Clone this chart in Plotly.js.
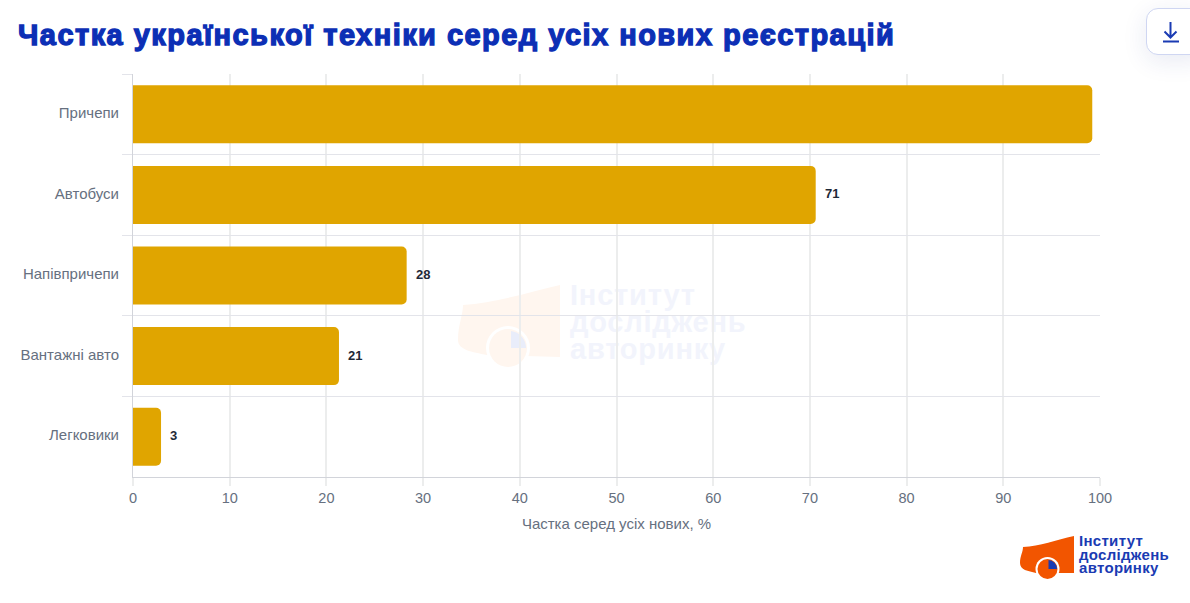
<!DOCTYPE html>
<html><head><meta charset="utf-8">
<script src="https://cdn.plot.ly/plotly-3.0.1.min.js"></script>
<style>
html,body{margin:0;padding:0;background:#fff;width:1190px;height:603px;overflow:hidden}
#under,#over{position:absolute;left:0;top:0;width:1190px;height:603px;pointer-events:none}
#chart{position:absolute;left:0;top:0;width:1190px;height:603px}
#btn{position:absolute;left:1146px;top:8px;width:60px;height:47px;box-sizing:border-box;background:#fff;border:1px solid #cfd6f2;border-radius:12px;box-shadow:0 6px 24px rgba(30,50,140,.10)}
.gtitle{stroke:#0c2fb5;stroke-width:1.3px;letter-spacing:1.45px}
.ytick text{translate:0 -1.5px}
</style></head><body>
<svg id="under" viewBox="0 0 1190 603">
  <path d="M463 305 C495 303 530 292 560 285 L560 357 L487 355 C472 352 458 350 458 340 C458 325 463 315 463 305Z" fill="#fff6ef"/>
  <circle cx="508" cy="348" r="22" fill="#fff"/><circle cx="508" cy="348" r="19" fill="#fff6ef"/>
  <path d="M511 331 A17 17 0 0 1 526 348 L511 348Z" fill="#e9edfa"/>
  <g font-family="Liberation Sans" font-weight="700" font-size="29" fill="#f2f4fc" letter-spacing=".8">
    <text x="570" y="305">Інститут</text><text x="570" y="332">досліджень</text><text x="570" y="359">авторинку</text>
  </g>
</svg>
<div id="chart"></div>
<svg id="over" viewBox="0 0 1190 603">
  <path d="M1023 547 C1040 546 1056 540 1074 536 L1074 573 L1036 573 C1028 571 1020 570 1020 563 C1020 556 1023 552 1023 547Z" fill="#f25500"/>
  <circle cx="1047.5" cy="569" r="12" fill="#fff"/><circle cx="1047.5" cy="569" r="10" fill="#f25500"/>
  <path d="M1048.5 560 A9 9 0 0 1 1057 569 L1048.5 569Z" fill="#1a3bb3"/>
  <g font-family="Liberation Sans" font-weight="700" font-size="15" fill="#1a3bb3" letter-spacing=".3">
    <text x="1079" y="546">Інститут</text><text x="1079" y="559.5">досліджень</text><text x="1079" y="573">авторинку</text>
  </g>
</svg>
<div id="btn"><svg width="60" height="47" style="position:absolute;left:-1px;top:-1px"><path d="M24.5 14 V29 M18.5 23.5 L24.5 29.5 L30.5 23.5 M17 33.5 H33" fill="none" stroke="#1a3bb3" stroke-width="2"/></svg></div>
<script>
const categories = ['Причепи','Автобуси','Напівпричепи','Вантажні авто','Легковики'];
const shares = [99.2, 70.6, 28.3, 21.3, 2.9];
const valueLabels = ['', '71', '28', '21', '3'];
const xTicks = [0,10,20,30,40,50,60,70,80,90,100];
const titleText = 'Частка української техніки серед усіх нових реєстрацій';
const xTitle = 'Частка серед усіх нових, %';
const barColor = '#e0a500';

Plotly.newPlot('chart', [{
  type:'bar', orientation:'h', y:categories, x:shares,
  marker:{color:barColor}, hoverinfo:'x+y'
}],{
  width:1190,height:603,
  paper_bgcolor:'rgba(0,0,0,0)',plot_bgcolor:'rgba(0,0,0,0)',
  margin:{l:133,r:90,t:74,b:126,pad:0},
  showlegend:false,bargap:0.28,barcornerradius:5,
  title:{text:'<b>'+titleText+'</b>',x:18/1190,xanchor:'left',y:0.943,yanchor:'middle',
    font:{family:'Liberation Sans',size:29,color:'#0c2fb5'}},
  annotations:categories.map((c,i)=>({x:shares[i],y:c,xref:'x',yref:'y',text:valueLabels[i],showarrow:false,
    xanchor:'left',xshift:7,yshift:1,font:{family:'Liberation Sans',size:13,color:'#1f2937',weight:700}})).filter(a=>a.text),
  xaxis:{range:[0,100],tickvals:xTicks,ticktext:xTicks.map(String),showgrid:true,gridcolor:'#eceded',gridwidth:1.5,
    zeroline:false,showline:true,linecolor:'#d2d4da',linewidth:1,ticks:'outside',ticklen:8,tickwidth:1.5,tickcolor:'#eceded',
    tickfont:{family:'Liberation Sans',size:14.5,color:'#667080'},
    title:{text:xTitle,font:{family:'Liberation Sans',size:15,color:'#667080'},standoff:13}},
  yaxis:{autorange:'reversed',type:'category',tickson:'boundaries',ticks:'outside',ticklen:10,tickcolor:'#e3e4ea',
    showgrid:true,gridcolor:'#e3e4ea',gridwidth:1,zeroline:false,showline:true,linecolor:'#d2d4da',linewidth:1,
    tickfont:{family:'Liberation Sans',size:15,color:'#667080'},ticklabelstandoff:10}
},{displayModeBar:false});
</script>
</body></html>
